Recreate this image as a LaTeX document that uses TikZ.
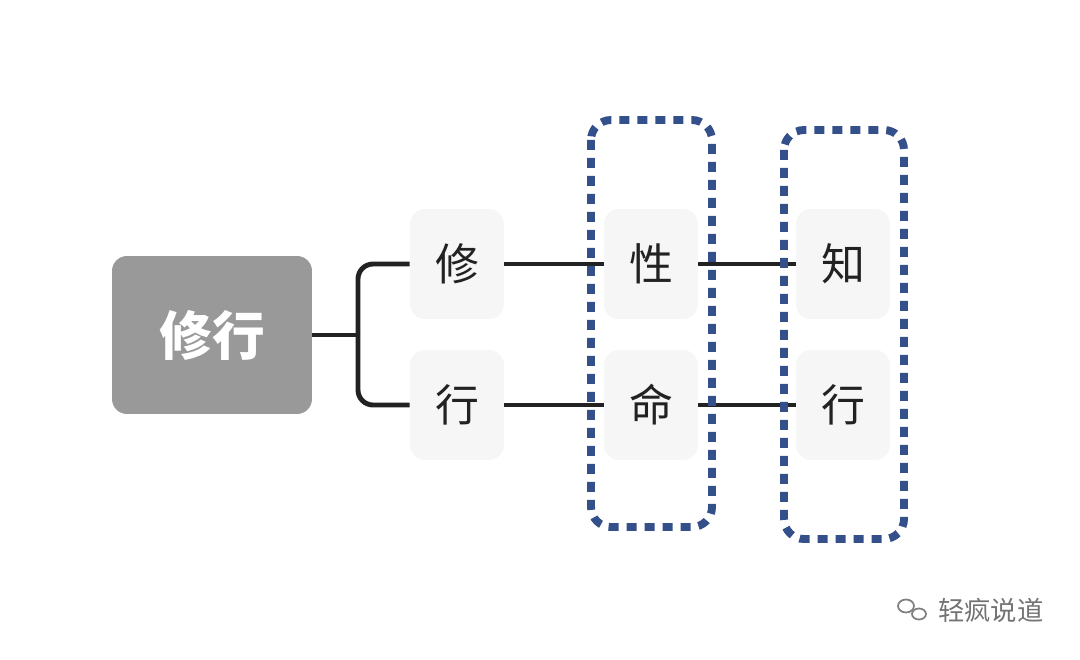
\documentclass[tikz,border=0pt]{standalone}
\usepackage{fontspec}
\newfontfamily\cjk{Noto Sans CJK SC}
\usetikzlibrary{positioning}
\definecolor{rootgray}{HTML}{999999}
\definecolor{leafgray}{HTML}{F6F6F6}
\definecolor{frameblue}{HTML}{34508A}
\definecolor{linedark}{HTML}{222222}
\begin{document}
\begin{tikzpicture}
[x=0.02cm,y=-0.02cm,
 rootbox/.style={fill=rootgray,rounded corners=0.3cm,minimum width=4cm,minimum height=3.16cm,
   text=white,font=\cjk\bfseries\fontsize{30}{30}\selectfont},
 leaf/.style={fill=leafgray,rounded corners=0.3cm,minimum width=1.88cm,minimum height=2.2cm,
   text=linedark,font=\cjk\fontsize{25}{25}\selectfont},
 link/.style={draw=linedark,line width=2.8pt},
 frame/.style={draw=frameblue,line width=4.5pt,dash pattern=on 0.2cm off 0.16cm,rounded corners=0.4cm}]
\useasboundingbox (0,0) rectangle (1080,660);
\node[rootbox] (root) at (212,335) {修行};
\node[leaf] (xiu) at (457,264) {修};
\node[leaf] (xing) at (457,405) {行};
\node[leaf] (xingA) at (651,264) {性};
\node[leaf] (ming) at (651,405) {命};
\node[leaf] (zhi) at (843,264) {知};
\node[leaf] (xingB) at (843,405) {行};
\coordinate (fork) at (358,335);
\draw[link] (root.east) -- (fork);
\draw[link,rounded corners=0.3cm] (fork) |- (xiu.west);
\draw[link,rounded corners=0.3cm] (fork) |- (xing.west);
\draw[link] (xiu) -- (xingA);
\draw[link] (xing) -- (ming);
\draw[link] (xingA) -- (zhi);
\draw[link] (ming) -- (xingB);
\draw[frame] (591,120) rectangle (712,527);
\draw[frame] (784,130) rectangle (904,539);
% watermark
\draw[gray,line width=1pt] (906,606) ellipse (8 and 6.5);
\draw[gray,line width=1pt] (919,614) ellipse (7 and 5.5);
\node[text=gray!90!black,font=\cjk\fontsize{15}{15}\selectfont,anchor=west] (mark) at (932,610) {轻疯说道};
\end{tikzpicture}
\end{document}
